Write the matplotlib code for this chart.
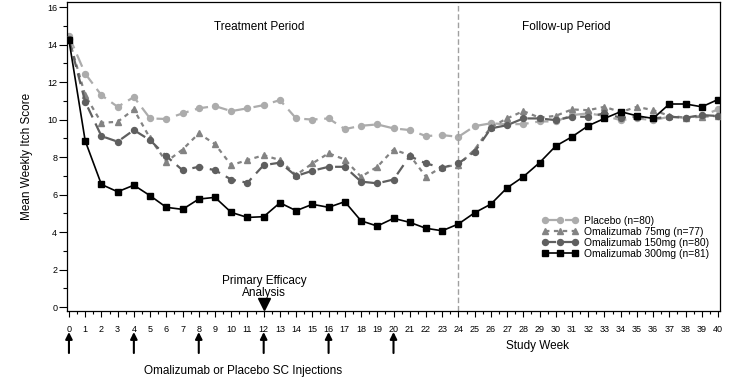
import matplotlib
matplotlib.use("Agg")
import matplotlib.pyplot as plt
from matplotlib.ticker import MultipleLocator

plt.rcParams["font.family"] = ["Liberation Sans", "DejaVu Sans"]

weeks = list(range(0, 41))

placebo = [14.45, 12.45, 11.3, 10.68, 11.2, 10.06, 10.03, 10.33, 10.6, 10.72,
           10.45, 10.6, 10.77, 11.04, 10.06, 10.0, 10.06, 9.49, 9.67, 9.74,
           9.53, 9.44, 9.12, 9.17, 9.08, 9.65, 9.8, 9.75, 9.76, 9.9,
           9.9, 10.24, 10.33, 10.2, 9.97, 10.06, 9.97, 10.15, 10.1, 10.2, 10.54]
oma_75 = [14.3, 11.3, 9.83, 9.88, 10.54, 9.0, 7.75, 8.4, 9.26, 8.69,
          7.57, 7.84, 8.1, 7.84, 7.04, 7.66, 8.2, 7.87, 6.95, 7.48,
          8.4, 8.1, 6.95, 7.48, 7.57, 8.4, 9.6, 10.06, 10.45, 10.1,
          10.2, 10.54, 10.5, 10.68, 10.4, 10.68, 10.5, 10.2, 10.1, 10.15, 10.2]
oma_150 = [14.3, 10.95, 9.12, 8.82, 9.44, 8.9, 8.05, 7.3, 7.48, 7.3,
           6.8, 6.63, 7.57, 7.7, 6.99, 7.27, 7.48, 7.48, 6.69, 6.6,
           6.8, 8.05, 7.66, 7.43, 7.66, 8.28, 9.53, 9.7, 10.06, 10.06,
           9.97, 10.15, 10.15, 10.33, 10.1, 10.15, 10.06, 10.15, 10.1, 10.24, 10.19]
oma_300 = [14.24, 8.87, 6.54, 6.15, 6.5, 5.94, 5.32, 5.21, 5.76, 5.85,
           5.05, 4.78, 4.82, 5.56, 5.14, 5.48, 5.32, 5.62, 4.6, 4.32,
           4.73, 4.52, 4.2, 4.07, 4.43, 5.03, 5.49, 6.36, 6.95, 7.7,
           8.59, 9.08, 9.67, 10.06, 10.42, 10.2, 10.06, 10.83, 10.83, 10.68, 11.07]

injection_weeks = [0, 4, 8, 12, 16, 20]

W, H = 729, 379
fig = plt.figure(figsize=(W / 100, H / 100), dpi=100)
ax = fig.add_axes([67 / W, 1 - 311 / H, 653 / W, 309 / H])


def fx(px):
    return px / W


def fy(py):
    return 1 - py / H


ax.plot(weeks, placebo, color="#acacac", ls=(0, (6, 3)), lw=1.6, marker="o",
        ms=4.3, label="Placebo (n=80)", zorder=2)
ax.plot(weeks, oma_75, color="#838383", ls=(0, (2, 2)), lw=1.6, marker="^",
        ms=4.3, label="Omalizumab 75mg (n=77)", zorder=3)
ax.plot(weeks, oma_150, color="#5f5f5f", ls=(0, (5, 3)), lw=1.6, marker="o",
        ms=4.3, label="Omalizumab 150mg (n=80)", zorder=4)
ax.plot(weeks, oma_300, color="black", ls="-", lw=1.2, marker="s",
        ms=4, label="Omalizumab 300mg (n=81)", zorder=5)

ax.set_xlim(-0.12, 40.12)
ax.set_ylim(-0.21, 16.27)

ax.xaxis.set_major_locator(MultipleLocator(1))
ax.xaxis.set_minor_locator(MultipleLocator(0.5))
ax.yaxis.set_major_locator(MultipleLocator(2))
ax.yaxis.set_minor_locator(MultipleLocator(1))
ax.tick_params(axis="both", which="major", direction="out", labelsize=6.5,
               width=0.8)
ax.tick_params(axis="x", which="major", length=4, pad=6)
ax.tick_params(axis="x", which="minor", length=2, width=0.8)
ax.tick_params(axis="y", which="major", length=6, pad=1)
ax.tick_params(axis="y", which="minor", length=3, width=0.8)
for s in ax.spines.values():
    s.set_linewidth(0.9)

ax.axvline(24, color="#a0a0a0", ls=(0, (4, 2)), lw=1)

ax.set_ylabel("Mean Weekly Itch Score", fontsize=8.5, labelpad=10)

fig.text(fx(259), fy(27), "Treatment Period", fontsize=8.5, ha="center",
         va="center")
fig.text(fx(566), fy(27), "Follow-up Period", fontsize=8.5, ha="center",
         va="center")
fig.text(fx(264), fy(287), "Primary Efficacy\nAnalysis", fontsize=8.5,
         ha="center", va="center", linespacing=0.9)
ax.plot(12, 0.023, marker="v", ms=8, color="black",
        transform=ax.get_xaxis_transform(), clip_on=False)

xt = ax.get_xaxis_transform()
for w in injection_weeks:
    ax.annotate("", xy=(w, -0.068), xytext=(w, -0.136), xycoords=xt,
                textcoords=xt,
                arrowprops=dict(arrowstyle="-|>", color="black", lw=1.5,
                                mutation_scale=10, shrinkA=0, shrinkB=0))

fig.text(fx(537), fy(346), "Study Week", fontsize=8.5, ha="center",
         va="center")
fig.text(fx(243), fy(371), "Omalizumab or Placebo SC Injections",
         fontsize=8.5, ha="center", va="center")

fig.legend(loc="upper left", bbox_to_anchor=(fx(542), fy(216)), frameon=False,
           fontsize=7.4, numpoints=3, handlelength=3.5, handletextpad=0.6,
           labelspacing=0.1, borderpad=0, borderaxespad=0)

fig.savefig("out.png", dpi=100)
